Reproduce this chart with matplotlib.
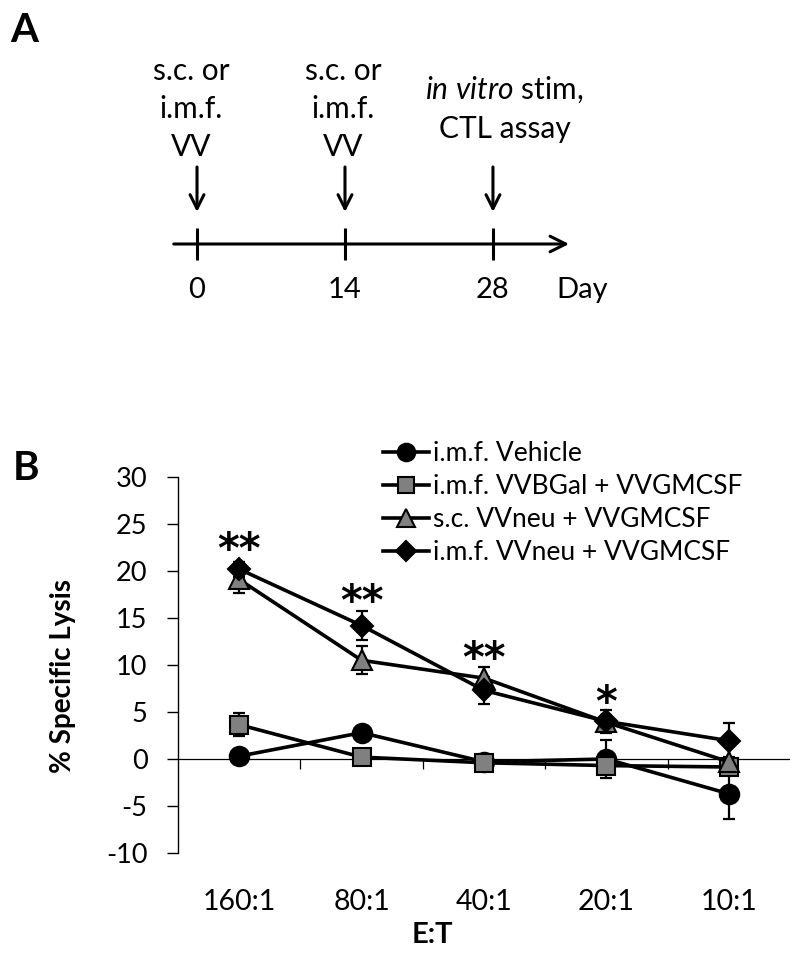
import numpy as np
import matplotlib
matplotlib.use('Agg')
import matplotlib.pyplot as plt
from matplotlib.lines import Line2D

plt.rcParams['font.family'] = ['Lato', 'DejaVu Sans']
plt.rcParams['mathtext.fontset'] = 'custom'
plt.rcParams['mathtext.rm'] = 'Lato'
plt.rcParams['mathtext.it'] = 'Lato:italic'
plt.rcParams['axes.unicode_minus'] = False

# Panel A: immunisation schedule
days = [0, 14, 28]
day_labels = ['0', '14', '28']
events = ['s.c. or\ni.m.f.\nVV', 's.c. or\ni.m.f.\nVV', r'$\it{in\ vitro}$ stim,' + '\nCTL assay']

# Panel B: CTL assay
ratios = ['160:1', '80:1', '40:1', '20:1', '10:1']
series_names = ['i.m.f. Vehicle', 'i.m.f. VVBGal + VVGMCSF',
                's.c. VVneu + VVGMCSF', 'i.m.f. VVneu + VVGMCSF']
vehicle = [0.3, 2.8, -0.3, 0.0, -3.7]
vehicle_err = [0.3, 0.3, 0.3, 2.05, 2.7]
bgal = [3.65, 0.2, -0.4, -0.7, -0.85]
bgal_err = [1.2, 0.3, 0.9, 0.5, 0.7]
sc_neu = [19.1, 10.5, 8.6, 3.9, -0.3]
sc_neu_err = [1.4, 1.5, 1.2, 0.8, 0.5]
imf_neu = [20.2, 14.2, 7.3, 4.0, 1.95]
imf_neu_err = [0.8, 1.5, 1.4, 1.2, 1.85]
stars = ['**', '**', '**', '*', '']
star_y = [22.1, 16.6, 10.5, 5.9, 0]

fig = plt.figure(figsize=(8, 9.55), dpi=100)

# ---- panel A ----
ax_a = fig.add_axes([0, 1 - 320 / 955, 1, 320 / 955])
ax_a.set_xlim(-18.64, 57.05)
ax_a.set_ylim(320, 0)
ax_a.axis('off')

ax_a.annotate('', xy=(35.2, 244), xytext=(-2.2, 244),
              arrowprops=dict(arrowstyle='->', lw=2.2, color='black', mutation_scale=28,
                              shrinkA=0, shrinkB=0))
text_x = [-0.57, 13.8, 29.1]
for d, lab, ev, tx in zip(days, day_labels, events, text_x):
    ax_a.vlines(d, 228, 260, color='black', lw=2.2)
    ax_a.annotate('', xy=(d, 212), xytext=(d, 167),
                  arrowprops=dict(arrowstyle='->', lw=2.2, color='black', mutation_scale=25,
                                  shrinkA=0, shrinkB=0))
    ax_a.text(d, 298, lab, ha='center', va='baseline', fontsize=21)
    ax_a.text(tx, 109, ev, ha='center', va='center', fontsize=21.5, linespacing=1.45)
ax_a.text(34.0, 298, 'Day', ha='left', va='baseline', fontsize=21)
fig.text(10 / 800, 1 - 31 / 955, 'A', fontsize=29, fontweight='bold', va='center', ha='left')

# ---- panel B ----
ax = fig.add_axes([178 / 800, 1 - 853 / 955, 612 / 800, 376 / 955])
x = np.arange(len(ratios))
styles = [
    (vehicle, vehicle_err, 'o', 'black', 14),
    (bgal, bgal_err, 's', '#808080', 13),
    (sc_neu, sc_neu_err, '^', '#808080', 15),
    (imf_neu, imf_neu_err, 'D', 'black', 11),
]
handles = []
for (vals, err, mk, fc, ms), name in zip(styles, series_names):
    ax.errorbar(x, vals, yerr=err, fmt='none', ecolor='black', elinewidth=1.6,
                capsize=4, capthick=1.6, zorder=2)
    ax.plot(x, vals, color='black', lw=2.6, marker=mk, markersize=ms,
            markerfacecolor=fc, markeredgecolor='black', markeredgewidth=1.5, zorder=3)
    handles.append(Line2D([], [], color='black', lw=2.6, marker=mk, markersize=ms * 0.9,
                          markerfacecolor=fc, markeredgecolor='black', markeredgewidth=1.5))

for xi, s, sy in zip(x, stars, star_y):
    if s:
        ax.text(xi, sy, s, ha='center', va='center', fontsize=30, fontweight='bold',
                family='DejaVu Sans')

ax.axhline(0, color='black', lw=0.9, zorder=1)
ax.vlines(x[:-1] + 0.5, -1.1, 0, color='black', lw=0.9)

ax.set_xlim(-0.5, len(ratios) - 0.5)
ax.set_ylim(-10, 30)
ax.set_yticks(np.arange(-10, 31, 5))
ax.set_xticks(x)
ax.set_xticklabels(ratios)
ax.tick_params(axis='x', length=0, pad=26, labelsize=20.5)
ax.tick_params(axis='y', length=8, width=1, pad=14, labelsize=19.5, direction='out')
for sp in ['top', 'right', 'bottom']:
    ax.spines[sp].set_visible(False)
ax.spines['left'].set_linewidth(1)

ax.set_ylabel('% Specific Lysis', fontsize=20, fontweight='bold')
ax.yaxis.set_label_coords(-0.167, 0.47)
fig.text(432 / 800, 1 - 935 / 955, 'E:T', fontsize=21, fontweight='bold',
         ha='center', va='center')

fig.legend(handles, series_names, loc='upper left', bbox_to_anchor=(383 / 800, 1 - 441 / 955),
           frameon=False, fontsize=19, handlelength=1.75, handletextpad=0.15,
           labelspacing=0.3, borderaxespad=0, borderpad=0)

fig.text(13 / 800, 1 - 468 / 955, 'B', fontsize=29, fontweight='bold', va='center', ha='left')

fig.savefig('out.png', dpi=100)
